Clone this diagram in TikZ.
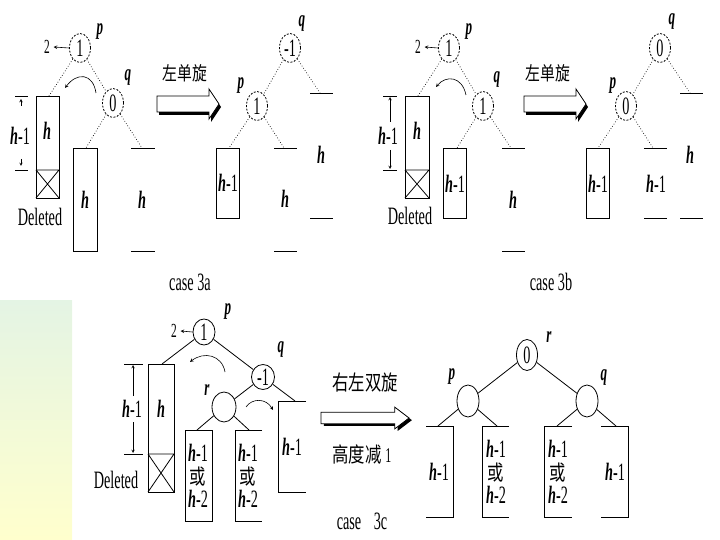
\documentclass[tikz,border=0pt]{standalone}
\usepackage{fontspec}
\setmainfont{Liberation Serif}[FakeStretch=0.57]
\newfontfamily\cjk{Noto Sans CJK SC}[FakeStretch=0.78]
\usepackage{tikz}
\usetikzlibrary{shapes.geometric, positioning}
\definecolor{stripTop}{RGB}{228,244,228}
\definecolor{stripBot}{RGB}{255,255,205}
\newcommand{\hv}{\textbf{\textit{h}}}

\begin{document}
\begin{tikzpicture}[>=stealth, x=1pt, y=-1pt, line width=0.8pt,
    font=\fontsize{25}{23}\selectfont,
    bal/.style={ellipse, draw, dash pattern=on 2pt off 1.5pt, minimum width=21pt, minimum height=29pt, inner sep=0pt},
    balc/.style={ellipse, draw, minimum width=22pt, minimum height=26pt, inner sep=0pt},
    tag/.style={font=\fontsize{23}{24}\selectfont\bfseries\itshape},
    two/.style={font=\fontsize{20}{21}\selectfont},
    lnk/.style={dotted, line width=0.7pt},
    zh/.style={font=\cjk\fontsize{19}{21}\selectfont},
    fatarrow/.pic={
        \fill[shift={(2,3)}] (0,-8) -- (52,-8) -- (52,-15) -- (62,0) -- (52,15) -- (52,8) -- (0,8) -- cycle;
        \draw[fill=white] (0,-8) -- (52,-8) -- (52,-15) -- (62,0) -- (52,15) -- (52,8) -- (0,8) -- cycle;
    }]

    \useasboundingbox (0,0) rectangle (720,540);
    \shade[top color=stripTop, bottom color=stripBot] (0,300) rectangle (72,540);

    % =================================================================
    % case 3a
    % =================================================================
    \node[bal] (pA) at (80,48) {1};
    \node[tag] (pAl) at (100,32) {p};
    \node[two] (twoA) at (47,47) {2};
    \draw[->, line width=0.6pt] (pA.west) -- (twoA.east);
    \node[bal] (qA) at (113,103) {0};
    \node[tag] (qAl) at (128,78) {q};
    \draw[lnk] (pA) -- (qA);

    % Cây con bị xóa
    \coordinate (dA) at (49,96);
    \draw (36,96) rectangle (59,198);
    \draw (36,170) -- (59,170) (36,170) -- (59,198) (36,198) -- (59,170);
    \node (hA) at (47,131) {\hv};
    \node (hmA) at (20,136) {\hv-1};
    \draw (15,96) -- (28,96) (15,170) -- (28,170);
    \draw[->, line width=0.5pt] (21,106) -- (21,99);
    \draw[->, line width=0.5pt] (21,159) -- (21,166);
    \node (delA) at (40,217) {Deleted};
    \draw[lnk] (pA) -- (dA);
    \draw[->, line width=0.6pt] (96,93) .. controls (93,73) and (77,72) .. (65,88);

    % Cây con của q
    \coordinate (qAa) at (86,148);
    \draw (73,148) rectangle (97,251);
    \node (hqAa) at (85,200) {\hv};
    \coordinate (qAb) at (142,148);
    \draw (131,148) -- (155,148) (131,251) -- (155,251);
    \node (hqAb) at (142,200) {\hv};
    \draw[lnk] (qA) -- (qAa);
    \draw[lnk] (qA) -- (qAb);

    \pic at (157,104) {fatarrow};
    \node[zh] (rotA) at (185,73) {左单旋};

    % Sau khi quay
    \node[bal] (qA2) at (290,48) {-1};
    \node[tag] (qA2l) at (302,24) {q};
    \node[bal] (pA2) at (257,106) {1};
    \node[tag] (pA2l) at (241,86) {p};
    \draw[lnk] (qA2) -- (pA2);
    \coordinate (tA1) at (320,93);
    \draw (310,93) -- (333,93) (310,218) -- (333,218);
    \node (htA1) at (321,155) {\hv};
    \coordinate (tA2) at (229,148);
    \draw (216,148) rectangle (239,218);
    \node (htA2) at (228,183) {\hv-1};
    \coordinate (tA3) at (284,148);
    \draw (274,148) -- (297,148) (274,251) -- (297,251);
    \node (htA3) at (285,199) {\hv};
    \draw[lnk] (qA2) -- (tA1);
    \draw[lnk] (pA2) -- (tA2);
    \draw[lnk] (pA2) -- (tA3);
    \node (caseA) at (190,282) {case 3a};

    % =================================================================
    % case 3b
    % =================================================================
    \node[bal] (pB) at (449,48) {1};
    \node[tag] (pBl) at (469,32) {p};
    \node[two] (twoB) at (418,47) {2};
    \draw[->, line width=0.6pt] (pB.west) -- (twoB.east);
    \node[bal] (qB) at (483,106) {1};
    \node[tag] (qBl) at (497,80) {q};
    \draw[lnk] (pB) -- (qB);

    \coordinate (dB) at (418,96);
    \draw (405,96) rectangle (429,198);
    \draw (405,170) -- (429,170) (405,170) -- (429,198) (405,198) -- (429,170);
    \node (hB) at (417,131) {\hv};
    \node (hmB) at (388,136) {\hv-1};
    \draw (383,96) -- (397,96) (383,170) -- (397,170);
    \draw[->, line width=0.5pt] (390,122) -- (390,97);
    \draw[->, line width=0.5pt] (390,150) -- (390,169);
    \node (delB) at (410,216) {Deleted};
    \draw[lnk] (pB) -- (dB);
    \draw[->, line width=0.6pt] (466,95) .. controls (462,76) and (446,75) .. (436,87);

    \coordinate (qBa) at (457,148);
    \draw (443,148) rectangle (466,218);
    \node (hqBa) at (455,184) {\hv-1};
    \coordinate (qBb) at (511,148);
    \draw (502,148) -- (525,148) (502,251) -- (525,251);
    \node (hqBb) at (513,200) {\hv};
    \draw[lnk] (qB) -- (qBa);
    \draw[lnk] (qB) -- (qBb);

    \pic at (524,104) {fatarrow};
    \node[zh] (rotB) at (548,73) {左单旋};

    \node[bal] (qB2) at (660,48) {0};
    \node[tag] (qB2l) at (672,22) {q};
    \node[bal] (pB2) at (626,106) {0};
    \node[tag] (pB2l) at (613,86) {p};
    \draw[lnk] (qB2) -- (pB2);
    \coordinate (tB1) at (690,93);
    \draw (680,93) -- (703,93) (680,218) -- (703,218);
    \node (htB1) at (690,155) {\hv};
    \coordinate (tB2) at (598,148);
    \draw (586,148) rectangle (609,218);
    \node (htB2) at (598,184) {\hv-1};
    \coordinate (tB3) at (653,148);
    \draw (644,148) -- (667,148) (644,218) -- (667,218);
    \node (htB3) at (656,184) {\hv-1};
    \draw[lnk] (qB2) -- (tB1);
    \draw[lnk] (pB2) -- (tB2);
    \draw[lnk] (pB2) -- (tB3);
    \node (caseB) at (551,282) {case 3b};

    % =================================================================
    % case 3c
    % =================================================================
    \node[balc] (pC) at (204,332) {1};
    \node[tag] (pCl) at (228,312) {p};
    \node[two] (twoC) at (174,331) {2};
    \draw[->, line width=0.6pt] (pC.west) -- (twoC.east);
    \node[balc, minimum width=23pt, minimum height=25pt] (qC) at (263,377) {-1};
    \node[tag] (qCl) at (281,350) {q};
    \node[balc, minimum width=24pt, minimum height=30pt] (rC) at (224,407) {};
    \node[tag] (rCl) at (207,390) {r};
    \draw (pC) -- (qC);
    \draw (qC) -- (rC);

    \coordinate (dC) at (162,364);
    \draw (148,364) rectangle (174,492);
    \draw (148,454) -- (174,454) (148,454) -- (174,492) (148,492) -- (174,454);
    \node (hC) at (161,409) {\hv};
    \node (hmC) at (132,409) {\hv-1};
    \draw (124,364) -- (143,364) (124,454) -- (143,454);
    \draw[->, line width=0.5pt] (133,396) -- (133,365);
    \draw[->, line width=0.5pt] (133,422) -- (133,453);
    \node (delC) at (116,480) {Deleted};
    \draw (pC) -- (dC);
    \draw[->, line width=0.6pt] (225,372) .. controls (222,355) and (204,351) .. (190,362);
    \draw[->, line width=0.6pt] (246,407) .. controls (252,398) and (266,398) .. (273,410);

    \coordinate (rCa) at (197,430);
    \draw (185,430) rectangle (212,521);
    \node[align=center] (hrCa) at (198,476) {\hv-1\\{\cjk\fontsize{21}{23}\selectfont 或}\\\hv-2};
    \coordinate (rCb) at (249,430);
    \draw (262,430) -- (235,430) -- (235,521) -- (262,521);
    \node[align=center] (hrCb) at (248,476) {\hv-1\\{\cjk\fontsize{21}{23}\selectfont 或}\\\hv-2};
    \coordinate (qCb) at (295,401);
    \draw (306,401) -- (278,401) -- (278,492) -- (306,492);
    \node (hqCb) at (292,447) {\hv-1};
    \draw (rC) -- (rCa);
    \draw (rC) -- (rCb);
    \draw (qC) -- (qCb);

    \pic[xscale=1.42, yscale=0.72] at (321,418) {fatarrow};
    \node[zh, font=\cjk\fontsize{21}{23}\selectfont] (rotC) at (365,383) {右左双旋};
    \node[zh, font=\cjk\fontsize{21}{23}\selectfont] (decC) at (362,455) {高度减 {\rmfamily 1}};
    \node (caseC) at (362,521) {case\enspace 3c};

    % Sau khi quay kép
    \node[balc, minimum width=21pt, minimum height=31pt] (rC2) at (527,355) {0};
    \node[tag] (rC2l) at (549,337) {r};
    \node[balc, minimum width=22pt, minimum height=32pt] (pC2) at (468,401) {};
    \node[tag] (pC2l) at (452,377) {p};
    \node[balc, minimum width=22pt, minimum height=32pt] (qC2) at (587,401) {};
    \node[tag] (qC2l) at (604,378) {q};
    \draw (rC2) -- (pC2);
    \draw (rC2) -- (qC2);

    \coordinate (tC1) at (438,426);
    \draw (426,426) -- (453,426) -- (453,517) -- (426,517);
    \node (htC1) at (439,472) {\hv-1};
    \coordinate (tC2) at (497,426);
    \draw (509,426) -- (482,426) -- (482,517) -- (509,517);
    \node[align=center] (htC2) at (496,472) {\hv-1\\{\cjk\fontsize{21}{23}\selectfont 或}\\\hv-2};
    \coordinate (tC3) at (557,426);
    \draw (572,426) -- (544,426) -- (544,517) -- (572,517);
    \node[align=center] (htC3) at (558,472) {\hv-1\\{\cjk\fontsize{21}{23}\selectfont 或}\\\hv-2};
    \coordinate (tC4) at (616,426);
    \draw (601,426) -- (628,426) -- (628,517) -- (601,517);
    \node (htC4) at (615,472) {\hv-1};
    \draw (pC2) -- (tC1);
    \draw (pC2) -- (tC2);
    \draw (qC2) -- (tC3);
    \draw (qC2) -- (tC4);

\end{tikzpicture}
\end{document}
